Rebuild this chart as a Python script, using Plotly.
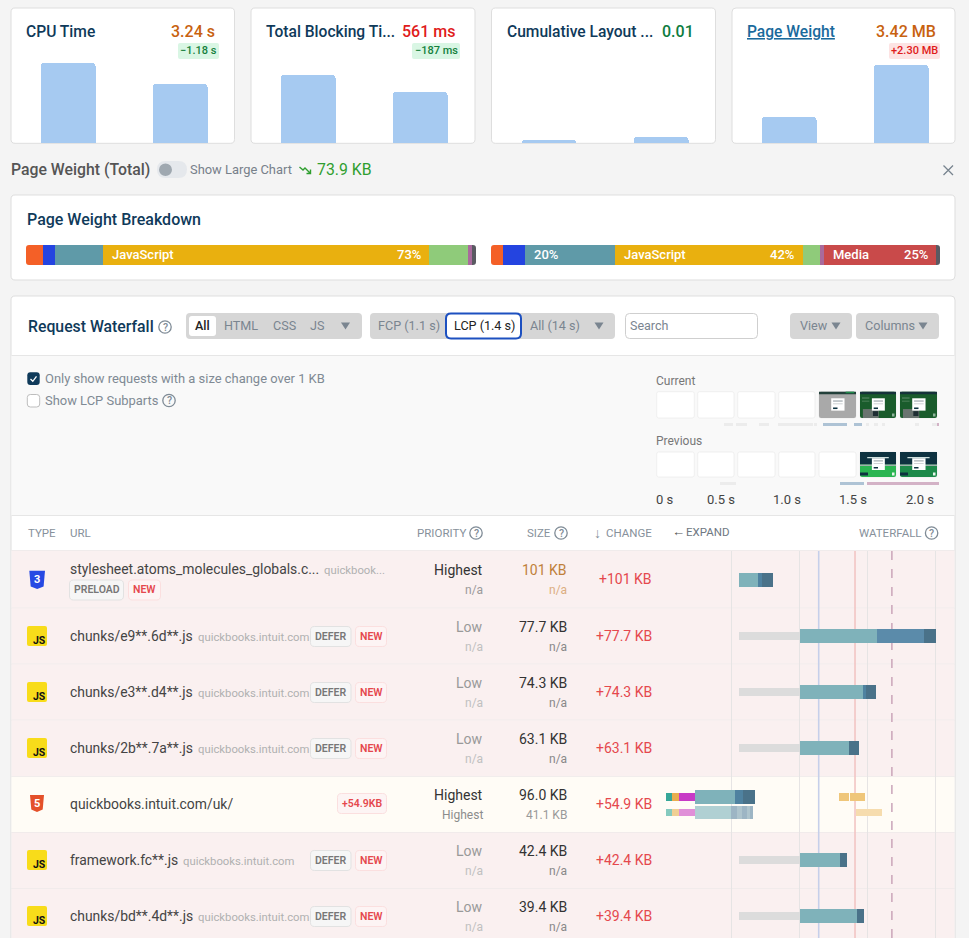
import plotly.graph_objects as go

W, H = 969, 938
FONT = "Roboto"

# ---------- data ----------
metric_names = ["CPU Time", "Total Blocking Ti...", "Cumulative Layout ...", "Page Weight"]
metric_values = ["3.24 s", "561 ms", "0.01", "3.42 MB"]
metric_badges = ["−1.18 s", "−187 ms", "", "+2.30 MB"]
metric_previous = [4.42, 748, 0.005, 1.12]
metric_current = [3.24, 561, 0.01, 3.42]
metric_ymax = [7.46, 1485, 0.225, 5.92]

breakdown_labels = ["HTML", "CSS", "Fonts", "JavaScript", "Images", "Other", "Media", "Misc"]
breakdown_left = [3.8, 2.7, 10.7, 72.4, 8.7, 0.9, 0.0, 0.8]
breakdown_right = [2.7, 4.9, 20.0, 41.9, 3.8, 0.9, 24.9, 0.9]

row_urls = ["stylesheet.atoms_molecules_globals.c...", "chunks/e9**.6d**.js", "chunks/e3**.d4**.js",
            "chunks/2b**.7a**.js", "quickbooks.intuit.com/uk/", "framework.fc**.js", "chunks/bd**.4d**.js"]
row_hosts = ["quickbook...", "quickbooks.intuit.com", "quickbooks.intuit.com", "quickbooks.intuit.com",
             "", "quickbooks.intuit.com", "quickbooks.intuit.com"]
row_priority = ["Highest", "Low", "Low", "Low", "Highest", "Low", "Low"]
row_priority_prev = ["n/a", "n/a", "n/a", "n/a", "Highest", "n/a", "n/a"]
row_size = ["101 KB", "77.7 KB", "74.3 KB", "63.1 KB", "96.0 KB", "42.4 KB", "39.4 KB"]
row_size_prev = ["n/a", "n/a", "n/a", "n/a", "41.1 KB", "n/a", "n/a"]
row_change = ["+101 KB", "+77.7 KB", "+74.3 KB", "+63.1 KB", "+54.9 KB", "+42.4 KB", "+39.4 KB"]

# waterfall segments, seconds
wf_row = [0, 0, 0,
          1, 1, 1, 1,
          2, 2, 2, 2,
          3, 3, 3,
          4, 4, 4, 4, 4, 4, 4, 4,
          4, 4, 4, 4, 4, 4, 4, 4, 4, 4,
          5, 5, 5,
          6, 6, 6]
wf_lane = [0, 0, 0,
           0, 0, 0, 0,
           0, 0, 0, 0,
           0, 0, 0,
           -1, -1, -1, -1, -1, -1, -1, -1,
           1, 1, 1, 1, 1, 1, 1, 1, 1, 1,
           0, 0, 0,
           0, 0, 0]
wf_start = [0.555, 0.694, 0.726,
            0.555, 1.001, 1.569, 1.915,
            0.555, 1.001, 1.473, 1.486,
            0.555, 1.001, 1.363,
            0.016, 0.064, 0.118, 0.232, 0.526, 0.585, 1.291, 1.369,
            0.016, 0.064, 0.118, 0.232, 0.496, 0.544, 0.579, 0.611, 0.638, 1.417,
            0.555, 1.001, 1.297,
            0.555, 1.001, 1.425]
wf_end = [0.694, 0.726, 0.803,
          1.001, 1.569, 1.915, 2.007,
          1.001, 1.473, 1.486, 1.566,
          1.001, 1.363, 1.438,
          0.064, 0.118, 0.232, 0.526, 0.585, 0.670, 1.366, 1.484,
          0.064, 0.118, 0.232, 0.496, 0.544, 0.579, 0.611, 0.638, 0.657, 1.604,
          1.001, 1.297, 1.348,
          1.001, 1.425, 1.478]
wf_kind = ["recv", "mid", "dark",
           "wait", "recv", "blue", "dark",
           "wait", "recv", "mid", "dark",
           "wait", "recv", "dark",
           "dns", "tcp", "ssl", "recv", "mid", "dark", "task", "task",
           "dns2", "tcp2", "ssl2", "recv2", "mid2", "mid3", "mid2", "mid3", "mid2", "task2",
           "wait", "recv", "dark",
           "wait", "recv", "dark"]

time_ticks = [0.5, 1.0, 1.5, 2.0]
fcp_time, lcp_time, dashed_time = 1.142, 1.409, 1.68

# filmstrip timeline segments, seconds; 0 = current, 1 = previous
film_row = [0] * 13 + [1] * 3
film_start = [0.52, 0.611, 0.79, 0.929, 1.21, 1.273, 1.51, 1.6, 1.66, 1.72, 1.97, 2.10, 2.134,
              0.492, 1.4, 1.606]
film_end = [0.593, 0.694, 0.866, 1.199, 1.225, 1.452, 1.568, 1.62, 1.69, 1.74, 2.0, 2.134, 2.15,
            0.614, 1.584, 2.15]
film_kind = ["g"] * 5 + ["b", "b"] + ["g"] * 5 + ["p"] + ["g", "b", "p"]
film_labels = ["0 s", "0.5 s", "1.0 s", "1.5 s", "2.0 s"]

# ---------- helpers ----------
NAVY = "#0f3a5a"
shapes, annos = [], []
X = lambda px: px / W
Y = lambda py: 1 - py / H


def T(x, y, text, size=13, color="#444", anchor="left", weight=None):
    f = dict(family=FONT, size=size, color=color)
    if weight:
        f["weight"] = weight
    dx = {"left": -1, "right": 1, "center": 0}[anchor]
    annos.append(dict(x=X(x + dx), y=Y(y - 0.5), xref="paper", yref="paper", text=text, showarrow=False,
                      xanchor=anchor, yanchor="middle", font=f, borderpad=0))


def path(d, fill=None, line=None, lw=1, layer="below"):
    shapes.append(dict(type="path", xref="paper", yref="paper", path=d, layer=layer,
                       fillcolor=fill or "rgba(0,0,0,0)",
                       line=dict(color=line or "rgba(0,0,0,0)", width=lw if line else 0)))


def P(x, y):
    return f"{X(x):.6f},{Y(y):.6f}"


def rrect(x0, y0, x1, y1, r=4, fill="#fff", line=None, lw=1, layer="below"):
    d = (f"M {P(x0 + r, y0)} L {P(x1 - r, y0)} Q {P(x1, y0)} {P(x1, y0 + r)} "
         f"L {P(x1, y1 - r)} Q {P(x1, y1)} {P(x1 - r, y1)} L {P(x0 + r, y1)} "
         f"Q {P(x0, y1)} {P(x0, y1 - r)} L {P(x0, y0 + r)} Q {P(x0, y0)} {P(x0 + r, y0)} Z")
    path(d, fill, line, lw, layer)


def rect(x0, y0, x1, y1, fill, layer="below"):
    shapes.append(dict(type="rect", xref="paper", yref="paper", x0=X(x0), x1=X(x1), y0=Y(y0), y1=Y(y1),
                       fillcolor=fill, line=dict(width=0), layer=layer))


def hline(x0, x1, y, color="#e6e6e6"):
    rect(x0, y - 0.5, x1, y + 0.5, color)


def tri(cx, cy, color="#7a8590"):
    path(f"M {P(cx - 4.5, cy - 3.5)} L {P(cx + 4.5, cy - 3.5)} L {P(cx, cy + 3.5)} Z", color)


def help_icon(cx, cy, r=6.2):
    shapes.append(dict(type="circle", xref="paper", yref="paper", x0=X(cx - r), x1=X(cx + r),
                       y0=Y(cy - r), y1=Y(cy + r), line=dict(color="#7f8b96", width=1.3),
                       fillcolor="rgba(0,0,0,0)", layer="below"))
    T(cx, cy + 0.5, "?", 10.5, "#7f8b96", "center", 500)


def corners(x0, y0, x1, y1, r, color):
    for cx, cy, sx, sy in ((x0, y0, 1, 1), (x1, y0, -1, 1), (x0, y1, 1, -1), (x1, y1, -1, -1)):
        path(f"M {P(cx, cy)} L {P(cx + sx * r, cy)} Q {P(cx, cy)} {P(cx, cy + sy * r)} Z", color, layer="above")


def badge(x0, x1, cy, text, fill, line, color, h=10):
    rrect(x0, cy - h, x1, cy + h, 4, fill, line)
    T((x0 + x1) / 2, cy, text, 10.5, color, "center", 600)


fig = go.Figure()
ax = {}
next_axis = [1]


def new_axes(xd, yd, xr, yr, **xkw):
    n = next_axis[0]
    next_axis[0] += 1
    sx, sy = ("", "") if n == 1 else (str(n), str(n))
    ax[f"xaxis{sx}"] = dict(domain=[X(xd[0]), X(xd[1])], range=xr, visible=False, anchor=f"y{sy}", fixedrange=True)
    ax[f"xaxis{sx}"].update(xkw)
    ax[f"yaxis{sy}"] = dict(domain=[Y(yd[1]), Y(yd[0])], range=yr, visible=False, anchor=f"x{sx}", fixedrange=True)
    return f"x{sx}", f"y{sy}"


# ---------- page frames ----------
CARD_LINE = "#dedede"
card_x = [(11, 234.5), (251, 475), (491.5, 715.5), (732, 955)]
for x0, x1 in card_x:
    rrect(x0, 8, x1, 143.3, 4, "#fff", CARD_LINE)
rrect(11, 195, 955, 280, 4, "#fff", CARD_LINE)
rrect(11, 296, 955, 960, 4, "#fff", CARD_LINE)
rect(11.5, 355.5, 954.5, 515.5, "#f9f9f9")
hline(11.5, 954.5, 355.5)
hline(11.5, 954.5, 515.5)
hline(11.5, 954.5, 550.5)

# ---------- metric cards ----------
bar_centers = [(67.5, 179.5), (307.5, 419.5), (548.5, 660.5), (788.5, 900.5)]
title_x = [26, 266, 506.7, 747]
value_x = [215, 455, 694, 935.7]
value_col = ["#c8620f", "#e01b1b", "#0e7c3f", "#c8620f"]
badge_box = [(178, 219), (412, 460), None, (889, 940)]
badge_col = [("#d9f6e4", "#15803d"), ("#d9f6e4", "#15803d"), None, ("#fde3e3", "#e01b1b")]
for i in range(4):
    c0, c1 = bar_centers[i]
    xa, ya = new_axes((c0 - 56, c1 + 56), (8, 143), [-0.5, 1.5], [0, metric_ymax[i]])
    fig.add_trace(go.Bar(x=[0, 1], y=[metric_previous[i], metric_current[i]], width=55 / 112,
                         marker=dict(color="#a6caf1", cornerradius=3, line=dict(width=0)),
                         xaxis=xa, yaxis=ya, hoverinfo="skip"))
    name = metric_names[i]
    tc = NAVY
    if i == 3:
        name = f"<u>{name}</u>"
        tc = "#1a6a9c"
    T(title_x[i], 32.5, name, 15.6, tc, weight=500)
    T(value_x[i], 32.5, metric_values[i], 16, value_col[i], "right", 500)
    if badge_box[i]:
        b0, b1 = badge_box[i]
        rrect(b0, 43, b1, 59, 2, badge_col[i][0])
        T((b0 + b1) / 2, 51, metric_badges[i], 11, badge_col[i][1], "center", 500)

# ---------- page weight line ----------
T(10.5, 170, "Page Weight (Total)", 15.8, "#555", weight=500)
rrect(157, 161, 187, 178, 8.5, "#e5e8ec")
shapes.append(dict(type="circle", xref="paper", yref="paper", x0=X(159), x1=X(172), y0=Y(163.5), y1=Y(176),
                   fillcolor="#9fa8b0", line=dict(width=0), layer="below"))
T(189.5, 170, "Show Large Chart", 12.9, "#77808a")
path(f"M {P(299.5, 167)} L {P(303, 170)} L {P(305, 168)} L {P(310, 173)} M {P(310.5, 169.5)} L {P(310.5, 173.5)} L {P(306.5, 173.5)}",
     None, "#2f9e2f", 1.4)
T(316.5, 170, "73.9 KB", 15.8, "#2f9e2f")
path(f"M {P(943.5, 165.5)} L {P(953, 175)} M {P(953, 165.5)} L {P(943.5, 175)}", None, "#77838e", 1.3)

# ---------- breakdown ----------
T(26.5, 219.5, "Page Weight Breakdown", 16, NAVY, weight=500)
seg_colors = ["#f46027", "#2444e0", "#5f9aa8", "#e9b00f", "#8fcb7a", "#a96a9c", "#c94a4a", "#5a5a62"]
for values, (x0, x1) in ((breakdown_left, (26, 476)), (breakdown_right, (491, 940))):
    xa, ya = new_axes((x0, x1), (245, 265), [0, sum(values)], [-0.5, 0.5])
    base = 0
    for v, c, lab in zip(values, seg_colors, breakdown_labels):
        fig.add_trace(go.Bar(x=[v], y=[0], base=[base], width=1, orientation="h", name=lab,
                             marker=dict(color=c, line=dict(width=0)), xaxis=xa, yaxis=ya, hoverinfo="skip"))
        base += v
    corners(x0, 245, x1, 265, 3, "#fff")
for x, t, a in ((111.5, "JavaScript", "left"), (421, "73%", "right"), (534, "20%", "left"), (623.5, "JavaScript", "left"),
                (794.3, "42%", "right"), (832.5, "Media", "left"), (927.7, "25%", "right")):
    T(x, 255, t, 13, "#fff", a, 500)

# ---------- waterfall toolbar ----------
T(27.5, 327, "Request Waterfall", 15.8, NAVY, weight=500)
help_icon(165, 327)
rrect(186, 313, 362, 339, 4, "#d6d6d6")
rrect(189, 316, 216, 336, 3, "#fff")
T(202.5, 326, "All", 12.5, "#222", "center", 500)
for cx, t in ((241, "HTML"), (284, "CSS"), (317, "JS")):
    T(cx, 326, t, 12.6, "#7a8590", "center")
tri(345.5, 326)
rrect(370, 313, 615, 339, 4, "#d6d6d6")
T(408.5, 326, "FCP (1.1 s)", 12.6, "#7a8590", "center")
rrect(446, 313.5, 521, 338.5, 5, "#fff", "#1d50c0", 2)
T(484, 326, "LCP (1.4 s)", 12.6, "#222", "center")
T(529.5, 326, "All (14 s)", 12.6, "#7a8590")
tri(599, 326)
rrect(625.5, 313.5, 757.5, 338.5, 4, "#fff", "#cfcfcf")
T(630, 326, "Search", 12.5, "#7a8590")
rrect(790, 313, 852, 339, 4, "#d6d6d6")
T(799.5, 326, "View", 12.6, "#7a8590")
tri(836, 326)
rrect(856, 313, 939, 339, 4, "#d6d6d6")
T(865, 326, "Columns", 12.6, "#7a8590")
tri(923, 326)

rrect(27.3, 372.3, 39.7, 385, 3, NAVY)
path(f"M {P(30.5, 379)} L {P(32.8, 381.3)} L {P(36.5, 376.3)}", None, "#fff", 1.3)
T(44.5, 379, "Only show requests with a size change over 1 KB", 12.95, "#808a94")
rrect(27.3, 394.5, 39.7, 407, 3, "#fff", "#bdbdbd")
T(44.5, 400.5, "Show LCP Subparts", 12.95, "#808a94")
help_icon(169, 400.5)

# ---------- filmstrip ----------
T(655.5, 381, "Current", 12, "#777")
T(655.5, 441, "Previous", 12, "#777")
thumb_x = [(656.7, 694.3), (697.7, 734), (737.7, 775), (778.7, 815), (819, 856), (860, 896), (900, 937)]


def thumb(box, y0, y1, kind):
    x0, x1 = box
    rrect(x0, y0, x1, y1, 2, "#fff", "#ececec", 0.8)
    if kind == "blank":
        return
    w, h = x1 - x0, y1 - y0
    if kind == "grey":
        rrect(x0, y0, x1, y1, 2, "#a9a9a9")
        rect(x0, y0, x1, y0 + 2.5, "#23403a")
        rect(x0 + w * 0.72, y0, x0 + w * 0.95, y0 + 1.5, "#1f8a4a")
    elif kind == "green":
        rrect(x0, y0, x1, y1, 2, "#1a5c2c")
        rect(x0, y0, x1, y0 + 2.5, "#16323a")
        rect(x0 + 2, y0 + h * 0.22, x0 + w * 0.26, y0 + h * 0.26, "#5d8a69")
        rect(x0 + 2, y0 + h * 0.34, x0 + w * 0.26, y0 + h * 0.38, "#4a7f58")
        rect(x0 + w * 0.08, y0 + h * 0.66, x0 + w * 0.52, y1, "#6a7470")
        rect(x0 + w * 0.36, y0 + h * 0.74, x0 + w * 0.5, y1 - 2, "#1f2e33")
        rect(x1 - 4, y1 - 4.5, x1 - 1.5, y1 - 1.5, "#8fb39a")
    else:
        col = "#2bb552" if kind == "prev1" else "#1d8a4a"
        rrect(x0, y0, x1, y1, 2, col)
        rect(x0, y0, x1, y0 + h * 0.5, "#0e3240")
        rect(x0, y0 + h * 0.5, x1, y0 + h * 0.56, "#9fb0ac")
        rect(x0 + w * 0.2, y0 + h * 0.2, x0 + w * 0.8, y0 + h * 0.25, "#cfe0dd")
        rect(x0, y1 - 4.5, x0 + 8, y1 - 1.5, "#0e3240")
        rect(x1 - 4, y1 - 4.5, x1 - 1.5, y1 - 1.5, "#e8f5ec")
    rect(x0 + w * 0.33, y0 + h * 0.25, x0 + w * 0.69, y0 + h * 0.72, "#fff")
    rect(x0 + w * 0.38, y0 + h * 0.33, x0 + w * 0.64, y0 + h * 0.38, "#a9b0b5")
    rect(x0 + w * 0.38, y0 + h * 0.44, x0 + w * 0.64, y0 + h * 0.48, "#d0d4d6")
    rect(x0 + w * 0.38, y0 + h * 0.6, x0 + w * 0.5, y0 + h * 0.66, "#0e3240")


for box, k in zip(thumb_x, ["blank"] * 4 + ["grey", "green", "green"]):
    thumb(box, 391.7, 418, k)
for box, k in zip(thumb_x, ["blank"] * 5 + ["prev1", "prev2"]):
    thumb(box, 452, 477, k)

film_colors = {"g": "#ececec", "b": "#aec3d5", "p": "#d3b2c6"}
PX_S = 132
xa, ya = new_axes((655, 945), (420, 490), [0, 290 / PX_S], [(490 - 424.3) / 58.7, (420 - 424.3) / 58.7])
for kind, col in film_colors.items():
    idx = [i for i, k in enumerate(film_kind) if k == kind]
    fig.add_trace(go.Bar(y=[film_row[i] for i in idx], base=[film_start[i] for i in idx],
                         x=[film_end[i] - film_start[i] for i in idx], orientation="h", width=3 / 58.7,
                         marker=dict(color=col, line=dict(width=0)), xaxis=xa, yaxis=ya, hoverinfo="skip"))
for x, t, a in ((655.5, film_labels[0], "left"), (721, film_labels[1], "center"), (787, film_labels[2], "center"),
                (853, film_labels[3], "center"), (934, film_labels[4], "right")):
    T(x, 499.5, t, 13, "#444", a)

# ---------- table header ----------
HC = "#87919b"
T(27.5, 533, "TYPE", 11.5, HC)
T(69.5, 533, "URL", 11.5, HC)
T(466, 533, "PRIORITY", 11.5, HC, "right")
help_icon(476, 533)
T(551, 533, "SIZE", 11.5, HC, "right")
help_icon(561, 533)
T(597.5, 533, "↓", 14, HC, "center")
T(652, 533, "CHANGE", 11.5, HC, "right")
T(672, 532, "←", 13, "#555", "left", 500)
T(686, 532, "EXPAND", 11.5, "#6f7882")
T(921.5, 533, "WATERFALL", 11.5, HC, "right")
help_icon(931.6, 533)

# ---------- table rows ----------
row_tops = [550.5, 608.3, 664.3, 720.3, 776.7, 832.5, 888.4, 960]
row_cy = [579.5, 636.5, 692.5, 748.5, 804.5, 860.5, 916.5]
row_fill = ["#faf0f0"] * 4 + ["#fffcf6"] + ["#faf0f0"] * 2
for r in range(7):
    rect(11.5, row_tops[r], 954.5, row_tops[r + 1], row_fill[r])
    hline(11.5, 954.5, row_tops[r + 1], "#e8e6e6")

host_x = [324, 197, 197, 197, 0, 182, 197.5]
for r in range(7):
    c = row_cy[r]
    highlight = r == 0
    if r == 0:
        T(69.5, 569.5, row_urls[r], 13.9, "#444")
        T(host_x[r], 570.5, row_hosts[r], 11.3, "#b0b0b0")
        badge(69.5, 123.5, 590, "PRELOAD", "#f6f6f6", "#e2e2e2", "#777")
        badge(128.5, 160.5, 590, "NEW", "#fdf4f4", "#fbdfdf", "#e5484d")
    else:
        T(69.5, c, row_urls[r], 13.9, "#444")
        if row_hosts[r]:
            T(host_x[r] + 0.5, c + 1, row_hosts[r], 11.3, "#b0b0b0")
            badge(310.5, 351, c, "DEFER", "#f6f6f6", "#e2e2e2", "#777")
            badge(355.5, 386.5, c, "NEW", "#fdf4f4", "#fbdfdf", "#e5484d")
        else:
            badge(337.5, 386.5, c - 1, "+54.9KB", "#fdf4f4", "#fbdfdf", "#e5484d")
    hi = row_priority[r] == "Highest"
    yy1, yy2 = (570, 590) if r == 0 else (c - 8.7, c + 11)
    T(482.5, yy1, row_priority[r], 14, "#333" if hi else "#999", "right")
    T(482.5, yy2, row_priority_prev[r], 12, "#8c8c8c" if r == 4 else ("#9a9a9a" if hi else "#c0c0c0"), "right")
    T(567, yy1, row_size[r], 14, "#c0803a" if highlight else "#333", "right")
    T(567, yy2, row_size_prev[r], 12, "#dcae80" if highlight else ("#999" if r == 4 else "#888"), "right")
    T(652, c, row_change[r], 14, "#e5484d", "right")

    # icons
    if r == 0:
        path(f"M {P(29.3, 570.7)} L {P(45, 570.7)} L {P(43.6, 586.5)} L {P(37.2, 589)} L {P(30.7, 586.5)} Z", "#2649e3")
        T(37.2, 580, "3", 11, "#fff", "center", 700)
    elif r == 4:
        path(f"M {P(30, 795)} L {P(44, 795)} L {P(42.7, 809.5)} L {P(37, 812)} L {P(31.3, 809.5)} Z", "#e4502a")
        T(37, 804, "5", 11, "#fff", "center", 700)
    else:
        rrect(27, c - 10.5, 47, c + 9.5, 2, "#f8dc1a")
        T(46, c + 4, "JS", 10.5, "#111", "right", 700)

# ---------- waterfall ----------
ROW_PX = 56
xa, ya = new_axes((660, 955), (551, 938), [(660 - 663.4) / 136, (955 - 663.4) / 136],
                  [(938 - 580) / ROW_PX, (551 - 580) / ROW_PX])
ax["xaxis" + xa[1:]].update(visible=True, showgrid=True, gridcolor="#e6e4e4", gridwidth=1, zeroline=False,
                            showline=False, ticks="", showticklabels=False, tickmode="array", tickvals=time_ticks)

# timing markers sit between the grid and the bars
for v, col, dash in ((fcp_time, "#c6cfea", "solid"), (lcp_time, "#f2c5c3", "solid"), (dashed_time, "#cdaabd", "dash")):
    shapes.append(dict(type="line", xref=xa, yref=f"{ya} domain", x0=v, x1=v, y0=0, y1=1, layer="below",
                       line=dict(color=col, width=1.6, dash=dash)))

kinds = {
    "wait": ("#dcdcdc", 8), "recv": ("#7fb2ba", 14), "blue": ("#5b8baa", 14), "mid": ("#4f82a0", 14),
    "dark": ("#4a7289", 14), "dns": ("#36a798", 8), "tcp": ("#e8ae4f", 8), "ssl": ("#c83bc6", 8),
    "task": ("#efc67a", 8), "dns2": ("#85cabf", 7), "tcp2": ("#f0cf94", 7), "ssl2": ("#e08fd8", 7),
    "recv2": ("#b0d0d3", 13), "mid2": ("#9db5c4", 13), "mid3": ("#aec4cd", 13), "task2": ("#f6dcae", 7),
}
LANE_OFFSET = {0: 0, -1: -0.13, 1: 0.16}
for kind, (col, hpx) in kinds.items():
    idx = [i for i, k in enumerate(wf_kind) if k == kind]
    fig.add_trace(go.Bar(y=[wf_row[i] + LANE_OFFSET[wf_lane[i]] for i in idx],
                         base=[wf_start[i] for i in idx],
                         x=[wf_end[i] - wf_start[i] for i in idx],
                         orientation="h", width=hpx / ROW_PX,
                         marker=dict(color=col, cornerradius=1.5, line=dict(width=0)),
                         xaxis=xa, yaxis=ya, hoverinfo="skip"))

fig.update_layout(width=W, height=H, autosize=False, margin=dict(l=0, r=0, t=0, b=0),
                  paper_bgcolor="#f4f4f4", plot_bgcolor="rgba(0,0,0,0)", showlegend=False, barmode="overlay",
                  bargap=0, hovermode=False, font=dict(family=FONT), shapes=shapes, annotations=annos, **ax)
fig.write_html("out.html", config={"displayModeBar": False},
               post_script="document.body.style.margin='0';document.body.style.overflow='hidden';")
